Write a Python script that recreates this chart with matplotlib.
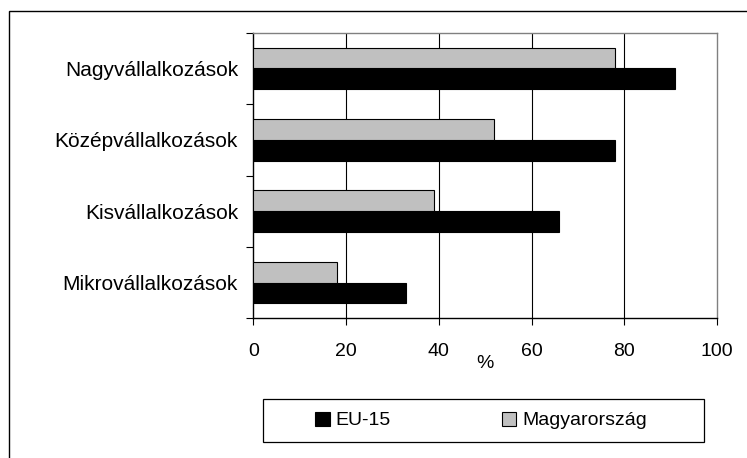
import matplotlib
matplotlib.use("Agg")
import matplotlib.pyplot as plt
from matplotlib.patches import Rectangle
import numpy as np

plt.rcParams['font.family'] = ['Liberation Sans', 'DejaVu Sans']

categories = ["Mikrovállalkozások", "Kisvállalkozások", "Középvállalkozások", "Nagyvállalkozások"]
eu15 = [33, 66, 78, 91]
magyar = [18, 39, 52, 78]
series_names = ["EU-15", "Magyarország"]
xticks = [0, 20, 40, 60, 80, 100]

W, H = 747, 458
fig = plt.figure(figsize=(W / 100, H / 100), dpi=100)

# outer frame
fig.patches.append(Rectangle((9 / W, -0.05), 1.2, 1.05 - 11 / H, transform=fig.transFigure,
                             fill=False, edgecolor='black', linewidth=1.0, zorder=0))

ax = fig.add_axes([253.3 / W, 1 - 318.3 / H, (717 - 253.3) / W, (318.3 - 32.7) / H])

y = np.arange(len(categories))
h = 0.29
b_eu = ax.barh(y - h / 2, eu15, height=h, color='black', edgecolor='black', linewidth=0.8,
               label=series_names[0], zorder=3)
b_hu = ax.barh(y + h / 2, magyar, height=h, color='#C0C0C0', edgecolor='black', linewidth=0.8,
               label=series_names[1], zorder=3)

ax.set_xlim(0, 100)
ax.set_ylim(-0.5, len(categories) - 0.5)
ax.set_xticks(xticks)
ax.set_xticklabels([str(t) for t in xticks], fontsize=14)
ax.set_yticks(y)
ax.set_yticklabels(categories, fontsize=15)
ax.set_yticks(np.arange(-0.5, len(categories), 1.0), minor=True)
ax.tick_params(axis='y', which='major', length=0, pad=11)
ax.tick_params(axis='y', which='minor', length=5, width=0.8, direction='out', color='black')
ax.tick_params(axis='x', which='major', length=5, width=0.8, direction='out', pad=13)

for v in xticks[1:-1]:
    ax.axvline(v, color='black', linewidth=0.8, zorder=1)

ax.spines['left'].set_color('black')
ax.spines['bottom'].set_color('black')
ax.spines['top'].set_color('#808080')
ax.spines['right'].set_color('#808080')
for s in ax.spines.values():
    s.set_linewidth(1.0)

ax.set_xlabel('%', fontsize=14)
ax.xaxis.set_label_coords(0.5, -0.128)

# legend box
fig.patches.append(Rectangle((262.7 / W, 1 - 442 / H), (704.3 - 262.7) / W, (442 - 399) / H,
                             transform=fig.transFigure, fill=False, edgecolor='black',
                             linewidth=0.9, zorder=1))
leg = fig.legend(handles=[b_eu, b_hu], labels=series_names, loc='center',
                 bbox_to_anchor=(481 / W, 1 - 420.5 / H), ncol=2, frameon=False,
                 fontsize=14, handlelength=0.75, handleheight=0.75, handletextpad=0.3,
                 columnspacing=5.7)

fig.savefig('out.png', dpi=100)
